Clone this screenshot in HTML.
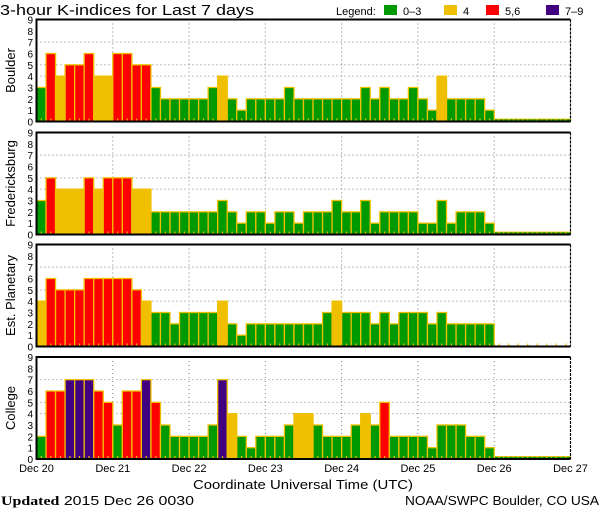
<!DOCTYPE html>
<html><head><meta charset="utf-8"><style>
html,body{margin:0;padding:0;background:#fff;width:600px;height:510px;overflow:hidden}
svg text{font-family:"Liberation Sans",sans-serif}
</style></head><body>
<svg id="chart" width="600" height="510" xmlns="http://www.w3.org/2000/svg">
<text x="0" y="15" font-size="15" textLength="254" lengthAdjust="spacingAndGlyphs">3-hour K-indices for Last 7 days</text>
<g font-size="11">
<text x="336" y="15">Legend:</text>
<rect x="384" y="5" width="13" height="10" fill="#009900"/>
<text x="403" y="15">0–3</text>
<rect x="444" y="5" width="13" height="10" fill="#f0c000"/>
<text x="463" y="15">4</text>
<rect x="486" y="5" width="13" height="10" fill="#ff0000"/>
<text x="505" y="15">5,6</text>
<rect x="546" y="5" width="13" height="10" fill="#400080"/>
<text x="565" y="15">7–9</text>
</g>
<g id="panels"></g>
<g font-size="11" id="xaxis"></g>
<text x="193" y="489" font-size="13" textLength="220" lengthAdjust="spacingAndGlyphs">Coordinate Universal Time (UTC)</text>
<text x="1" y="505" font-size="13" textLength="193" lengthAdjust="spacingAndGlyphs"><tspan font-family="Liberation Serif" font-weight="bold">Updated</tspan> 2015 Dec 26 0030</text>
<text x="405" y="505" font-size="13" textLength="194" lengthAdjust="spacingAndGlyphs">NOAA/SWPC Boulder, CO USA</text>
</svg>
<script>
const stations = ["Boulder","Fredericksburg","Est. Planetary","College"];
const dayLabels = ["Dec 20","Dec 21","Dec 22","Dec 23","Dec 24","Dec 25","Dec 26","Dec 27"];
const yTicks = [0,1,2,3,4,5,6,7,8,9];
const boulder = [3,6,4,5,5,6,4,4,6,6,5,5,3,2,2,2,2,2,3,4,2,1,2,2,2,2,3,2,2,2,2,2,2,2,3,2,3,2,2,3,2,1,4,2,2,2,2,1,null,null,null,null,null,null,null,null];
const fredericksburg = [3,5,4,4,4,5,4,5,5,5,4,4,2,2,2,2,2,2,2,3,2,1,2,2,1,2,2,1,2,2,2,3,2,2,3,1,2,2,2,2,1,1,3,1,2,2,2,1,null,null,null,null,null,null,null,null];
const planetary = [4,6,5,5,5,6,6,6,6,6,5,4,3,3,2,3,3,3,3,4,2,1,2,2,2,2,2,2,2,2,3,4,3,3,3,2,3,2,3,3,3,2,3,2,2,2,2,2,null,null,null,null,null,null,null,null];
const college = [2,6,6,7,7,7,6,5,3,6,6,7,5,3,2,2,2,2,3,7,4,2,1,2,2,2,3,4,4,3,2,2,2,3,4,3,5,2,2,2,2,1,3,3,3,2,2,1,null,null,null,null,null,null,null,null];
const series = [boulder, fredericksburg, planetary, college];
const missingLine = [true,true,false,true];

const NS="http://www.w3.org/2000/svg";
const X0=36.5, X1=570.5, N=56;
const panelTops=[19.5,132.5,244.5,357];
const PH=102;
const xScale=i=>X0+(X1-X0)*i/N;
function mk(tag,attrs,parent){const e=document.createElementNS(NS,tag);for(const k in attrs)e.setAttribute(k,attrs[k]);parent.appendChild(e);return e;}
function color(v){return v<=3?"#009900":v===4?"#f0c000":v<=6?"#ff0000":"#400080";}
const root=document.getElementById("panels");
series.forEach((data,p)=>{
  const top=panelTops[p], base=top+PH;
  const yScale=v=>base-v*PH/9;
  const g=mk("g",{},root);
  
  
  [4,5,7].forEach(v=>{const l=mk("line",{x1:X0,x2:X1,y1:yScale(v),y2:yScale(v),stroke:"#808080","stroke-dasharray":"1 3"},g);
    
    });
  for(let d=1;d<7;d++){const x=xScale(d*8);const l=mk("line",{x1:x,x2:x,y1:top,y2:base,stroke:"#808080","stroke-dasharray":"1 3"},g);
    
    }
  data.forEach((v,i)=>{
    const x=xScale(i), w=xScale(i+1)-x;
    if(v===null){
      if(missingLine[p]){const r=mk("rect",{x:x,y:base-2.5,width:w,height:2.5,fill:"#009900",stroke:"#f0c000","stroke-width":0.8},g);
        
        }
    } else {
      const r=mk("rect",{x:x,y:yScale(v),width:w,height:base-yScale(v),fill:color(v),stroke:"#f0c000","stroke-width":1.3},g);
      
      
    }
    const t=mk("rect",{x:x+w/2-0.5,y:base-3,width:1.2,height:3,fill:"#f0c000"},g);
    
    
  });
  const f=mk("path",{d:`M${X1},${top} H${X0} V${base} H${X1}`,fill:"none",stroke:"#000","stroke-width":2},g);
  
  
  const rb=mk("line",{x1:X1,x2:X1,y1:top,y2:base,stroke:"#000","stroke-width":1.2,"stroke-dasharray":"3 1"},g);
  
  
  yTicks.forEach(v=>{const t=mk("text",{x:33,y:yScale(v)+4,"font-size":10,"text-anchor":"end"},g);t.textContent=v;
    
    });
  const cy=top+PH/2;
  const tt=mk("text",{x:0,y:0,"font-size":13,"text-anchor":"middle",transform:`translate(15,${cy}) rotate(-90)`},g);
  tt.textContent=stations[p];
  
  
});
const xa=document.getElementById("xaxis");
dayLabels.forEach((d,i)=>{const t=mk("text",{x:xScale(i*8),y:472,"text-anchor":"middle"},xa);t.textContent=d;
  
  });
</script>
</body></html>
